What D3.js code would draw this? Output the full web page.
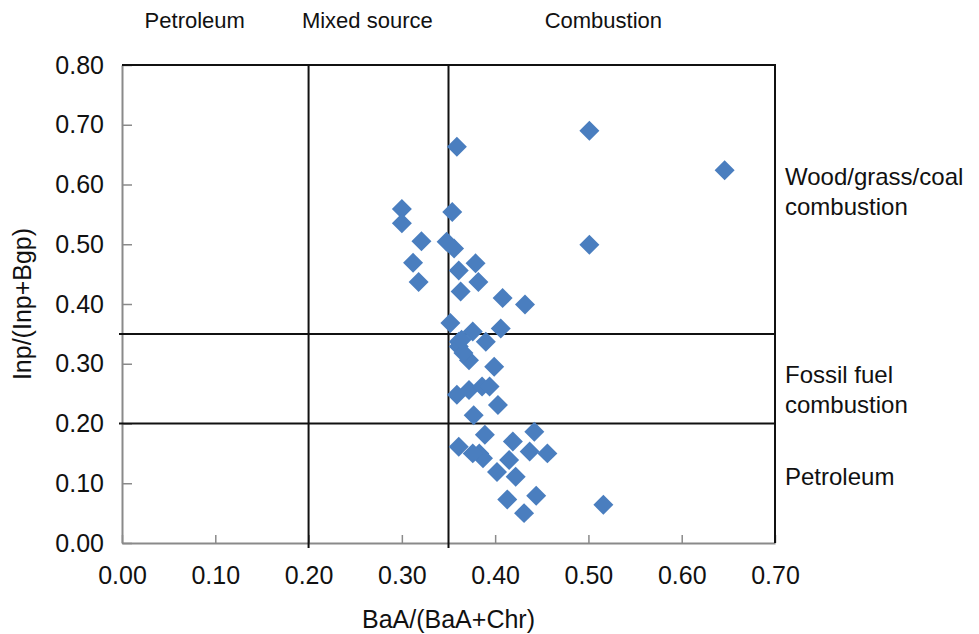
<!DOCTYPE html>
<html>
<head>
<meta charset="utf-8">
<script src="https://cdn.jsdelivr.net/npm/d3@7"></script>
<style>
  body { margin: 0; background: #fff; }
  text { font-family: "Liberation Sans", Arial, sans-serif; fill: #111; }
</style>
</head>
<body>
<svg id="chart" width="979" height="634"></svg>
<script>
const width = 979;
const height = 634;
const margin = {top: 65, right: 204, bottom: 91, left: 122};

// ratios
const baaRatio = [0.501, 0.646, 0.501, 0.359, 0.300, 0.300, 0.354, 0.321, 0.348, 0.356,
  0.312, 0.318, 0.379, 0.361, 0.382, 0.363, 0.408, 0.432, 0.352, 0.376,
  0.406, 0.361, 0.390, 0.361, 0.372, 0.366, 0.399, 0.359, 0.372, 0.386,
  0.394, 0.403, 0.377, 0.361, 0.389, 0.383, 0.387, 0.419, 0.442, 0.437,
  0.456, 0.415, 0.402, 0.422, 0.413, 0.444, 0.431, 0.516, 0.376, 0.364];
const inpRatio = [0.690, 0.624, 0.499, 0.663, 0.559, 0.535, 0.554, 0.505, 0.504, 0.493,
  0.469, 0.437, 0.468, 0.456, 0.437, 0.421, 0.410, 0.399, 0.368, 0.354,
  0.359, 0.337, 0.337, 0.329, 0.306, 0.318, 0.295, 0.248, 0.256, 0.262,
  0.262, 0.231, 0.214, 0.161, 0.181, 0.150, 0.142, 0.170, 0.186, 0.153,
  0.150, 0.139, 0.119, 0.111, 0.073, 0.079, 0.050, 0.064, 0.150, 0.340];

const xTicks = [0, 0.1, 0.2, 0.3, 0.4, 0.5, 0.6, 0.7];
const yTicks = [0, 0.1, 0.2, 0.3, 0.4, 0.5, 0.6, 0.7, 0.8];
const xDividers = [0.2, 0.35];
const yDividers = [0.2, 0.35];

const topLabels = [{text: "Petroleum", x: 0.078}, {text: "Mixed source", x: 0.263}, {text: "Combustion", x: 0.516}];
const rightLabels = [
  {lines: ["Wood/grass/coal", "combustion"], y: 0.6},
  {lines: ["Fossil fuel", "combustion"], y: 0.268},
  {lines: ["Petroleum"], y: 0.097}
];

const svg = d3.select("#chart");

const x = d3.scaleLinear().domain([0, 0.7]).range([margin.left, width - margin.right]);
const y = d3.scaleLinear().domain([0, 0.8]).range([height - margin.bottom, margin.top]);

const axisColor = "#8a8a8a";
const font = "Liberation Sans, Arial, sans-serif";

// axes (gray, ticks pointing inward)
const xAxis = svg.append("g")
  .attr("transform", `translate(0,${y(0)})`)
  .call(d3.axisBottom(x).tickValues(xTicks).tickSizeInner(-8).tickSizeOuter(0).tickFormat(d3.format(".2f")).tickPadding(23));
xAxis.select(".domain").attr("stroke", axisColor).attr("stroke-width", 2);
xAxis.selectAll(".tick line").attr("stroke", axisColor).attr("stroke-width", 1.5);
xAxis.selectAll(".tick text").attr("font-size", 25).attr("fill", "#111").attr("font-family", font);

const yAxis = svg.append("g")
  .attr("transform", `translate(${x(0)},0)`)
  .call(d3.axisLeft(y).tickValues(yTicks).tickSizeInner(-10).tickSizeOuter(0).tickFormat(d3.format(".2f")).tickPadding(18));
yAxis.select(".domain").attr("stroke", axisColor).attr("stroke-width", 2);
yAxis.selectAll(".tick line").attr("stroke", axisColor).attr("stroke-width", 1.5);
yAxis.selectAll(".tick text").attr("font-size", 25).attr("fill", "#111").attr("font-family", font);

// top and right border
svg.append("path")
  .attr("d", `M${x(0)},${y(0.8)} H${x(0.7)} V${y(0)}`)
  .attr("fill", "none").attr("stroke", "#111").attr("stroke-width", 2);

// dividing lines
svg.selectAll(".vdiv").data(xDividers).enter().append("line")
  .attr("x1", d => x(d)).attr("x2", d => x(d))
  .attr("y1", y(0.8)).attr("y2", y(0) + 5)
  .attr("stroke", "#111").attr("stroke-width", 2);
svg.selectAll(".hdiv").data(yDividers).enter().append("line")
  .attr("x1", x(0) - 3).attr("x2", x(0.7))
  .attr("y1", d => y(d)).attr("y2", d => y(d))
  .attr("stroke", "#111").attr("stroke-width", 2);

// points as diamonds
const diamond = d3.symbol().type(d3.symbolSquare).size(200);
svg.append("g").selectAll("path")
  .data(baaRatio.map((v, i) => ({bx: v, iy: inpRatio[i]})))
  .enter().append("path")
  .attr("d", diamond)
  .attr("transform", d => `translate(${x(d.bx)},${y(d.iy)}) rotate(45)`)
  .attr("fill", "#4a7ebf");

// region labels
svg.selectAll(".toplab").data(topLabels).enter().append("text")
  .attr("x", d => x(d.x)).attr("y", 28)
  .attr("text-anchor", "middle").attr("font-size", 22)
  .text(d => d.text);

rightLabels.forEach(l => {
  const t = svg.append("text")
    .attr("x", 785).attr("y", y(l.y)).attr("font-size", 24);
  l.lines.forEach((s, i) => {
    t.append("tspan").attr("x", 785).attr("dy", i === 0 ? 0 : 30).text(s);
  });
});

// axis titles
svg.append("text")
  .attr("x", (x(0) + x(0.7)) / 2).attr("y", 628)
  .attr("text-anchor", "middle").attr("font-size", 25)
  .text("BaA/(BaA+Chr)");

svg.append("text")
  .attr("transform", `translate(31,${(y(0) + y(0.8)) / 2}) rotate(-90)`)
  .attr("text-anchor", "middle").attr("font-size", 25)
  .text("Inp/(Inp+Bgp)");
</script>
</body>
</html>
